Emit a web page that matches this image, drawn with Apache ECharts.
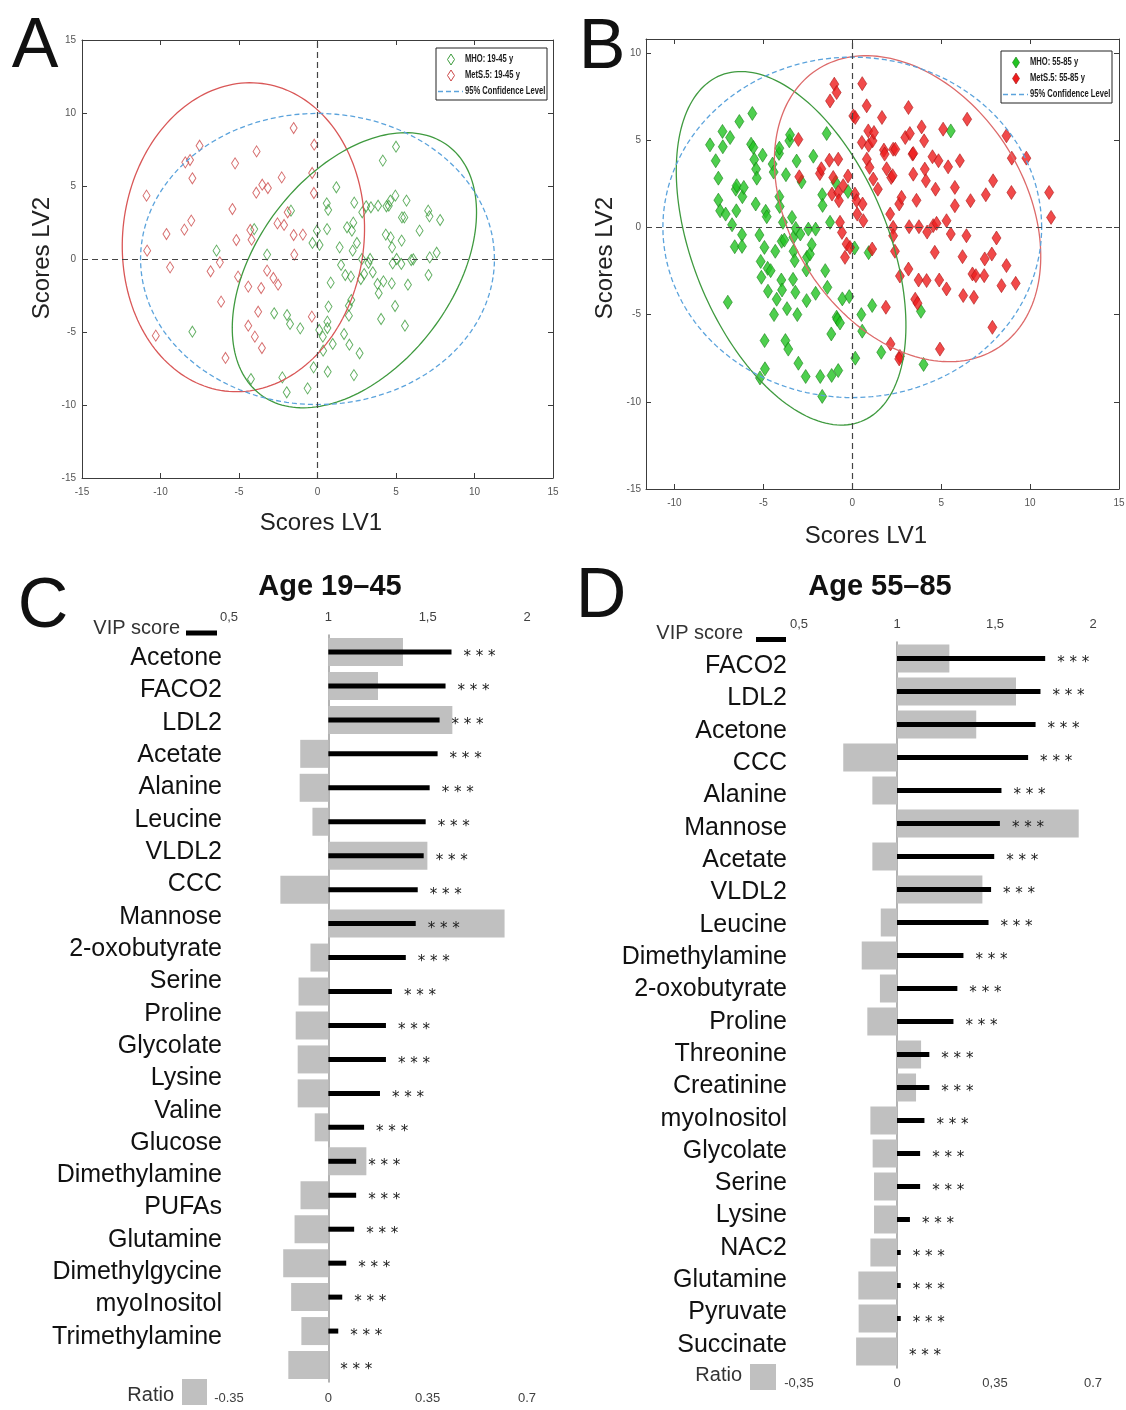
<!DOCTYPE html>
<html>
<head>
<meta charset="utf-8">
<title>PLS-DA scores and VIP scores</title>
<script src="https://cdn.jsdelivr.net/npm/echarts@6/dist/echarts.min.js"></script>
<style>
  html, body { margin: 0; padding: 0; background: #fff; }
  #chart { width: 1126px; height: 1410px; }
</style>
</head>
<body>
<div id="chart"></div>
<script>
// ---------- A: scores LV1/LV2, age 19-45 ----------
const mhoA = [
  [-7.97,-4.98],[-6.43,0.57],[-4.24,-8.22],[-4.03,2.05],[-3.21,0.30],[-2.76,-3.72],[-2.24,-8.11],[-1.96,-9.13],
  [-1.94,-3.84],[-1.75,-4.45],[-1.69,3.31],[-1.10,-4.75],[-0.63,-8.86],[-0.32,1.10],[-0.25,-7.42],[-0.04,1.94],
  [0.13,0.96],[0.11,-4.86],[0.34,-5.32],[0.36,-6.28],[0.59,3.81],[0.61,2.05],[0.63,-4.29],[0.63,-4.73],
  [0.68,3.36],[0.70,-3.26],[0.65,-7.72],[0.84,-1.62],[0.97,-5.82],[1.20,4.91],[1.41,0.80],[1.50,-0.41],
  [1.69,-5.14],[1.77,-1.10],[1.88,2.17],[2.00,-3.20],[2.00,-3.88],[2.03,-5.87],[2.13,-1.21],[2.15,-2.81],
  [2.19,1.94],[2.24,0.57],[2.28,2.49],[2.32,-7.95],[2.34,3.86],[2.51,1.10],[2.68,-6.46],[2.83,0.00],
  [2.76,-1.37],[2.85,3.20],[2.97,-1.03],[3.10,3.61],[3.25,-0.27],[3.35,0.00],[3.40,3.54],[3.52,-0.91],
  [3.82,-1.71],[3.86,3.65],[3.90,-2.35],[4.05,-4.11],[4.16,6.74],[4.20,-1.53],[4.35,1.67],[4.39,3.61],
  [4.54,3.65],[4.64,4.00],[4.66,1.48],[4.73,-1.67],[4.75,0.80],[4.79,-0.30],[4.94,-3.22],[4.96,4.34],
  [5.00,7.69],[5.04,0.00],[5.36,1.26],[5.34,-0.34],[5.38,2.85],[5.53,2.85],[5.57,-4.57],[5.67,4.00],
  [5.76,-1.76],[5.97,-0.07],[6.10,-0.02],[6.50,1.94],[7.05,3.31],[7.13,2.92],[7.07,-1.10],[7.15,0.11],
  [7.59,0.43],[7.81,2.67]
];
const metsA = [
  [-10.89,4.34],[-10.85,0.57],[-10.30,-5.25],[-9.62,1.71],[-9.39,-0.57],[-8.48,2.01],[-8.42,6.62],[-8.12,6.78],
  [-8.04,2.63],[-7.97,5.53],[-7.51,7.76],[-6.81,-0.84],[-6.22,-0.23],[-6.14,-2.92],[-5.86,-6.78],[-5.42,3.42],
  [-5.25,6.55],[-5.17,1.30],[-5.06,-1.21],[-4.41,-1.89],[-4.41,-4.57],[-4.28,1.99],[-4.20,1.32],[-3.99,-5.32],
  [-3.90,4.54],[-3.88,7.37],[-3.78,-3.61],[-3.59,-1.99],[-3.54,-6.10],[-3.52,5.09],[-3.21,-0.80],[-3.16,4.86],
  [-2.81,-1.30],[-2.55,2.44],[-2.51,-1.76],[-2.28,5.59],[-2.13,2.33],[-1.90,3.20],[-1.52,8.97],[-1.52,1.64],
  [-1.48,0.30],[-0.93,1.67],[-0.36,-3.95],[-0.34,5.89],[-0.23,4.52],[-0.21,7.83]
];
// confidence ellipses: [centre x, centre y, semi-axis a, semi-axis b, angle of a (deg)]
const ellMetsA = [-4.72, 1.49, 10.6, 7.69, 85];
const ellMhoA = [2.35, -0.77, 10.42, 6.38, 57.3];
const ellConfA = [0, 0, 11.27, 9.97, 0];
const ticksA = [-15, -10, -5, 0, 5, 10, 15];

// ---------- B: scores LV1/LV2, age 55-85 ----------
const mhoB = [
  [-8.0,4.73],[-7.68,3.82],[-7.53,2.82],[-7.53,1.56],[-7.43,0.95],[-7.30,5.50],[-7.28,4.62],[-7.12,0.76],
  [-7.00,-4.29],[-6.87,5.15],[-6.76,0.15],[-6.61,-1.11],[-6.55,2.19],[-6.52,0.95],[-6.50,2.39],[-6.35,6.07],
  [-6.20,-0.42],[-6.20,-1.09],[-6.18,1.76],[-6.10,2.29],[-5.62,6.53],[-5.69,4.77],[-5.56,4.58],[-5.51,3.89],
  [-5.41,3.34],[-5.37,2.82],[-5.43,1.34],[-5.22,-0.44],[-5.15,-1.95],[-5.11,-2.86],[-5.04,4.14],[-4.94,-1.15],
  [-4.93,-6.49],[-4.91,-8.11],[-5.19,-8.63],[-4.87,0.92],[-4.81,0.61],[-4.76,-2.35],[-4.74,-3.66],[-4.59,-2.48],
  [-4.48,3.63],[-4.42,3.17],[-4.40,-5.00],[-4.33,-1.37],[-4.25,-4.12],[-4.12,4.24],[-4.10,4.54],[-4.10,1.76],
  [-4.08,1.20],[-3.99,-3.02],[-3.97,-0.80],[-3.95,-3.59],[-3.90,0.29],[-3.82,-0.73],[-3.76,-6.49],[-3.73,3.02],
  [-3.67,-4.66],[-3.60,-6.98],[-3.54,4.96],[-3.50,5.31],[-3.39,0.57],[-3.33,-2.98],[-3.31,-0.57],[-3.30,-1.37],
  [-3.24,-1.91],[-3.20,-3.72],[-3.18,-0.06],[-3.13,3.80],[-3.09,-5.00],[-3.03,-7.79],[-2.92,-0.38],[-2.85,2.61],
  [-2.62,-8.55],[-2.58,-2.44],[-2.57,-4.20],[-2.55,-1.72],[-2.47,-0.10],[-2.38,-1.53],[-2.28,-0.99],[-2.19,4.08],
  [-2.06,-0.10],[-2.06,-3.78],[-1.80,-8.55],[-1.69,1.87],[-1.67,1.26],[-1.52,-2.48],[-1.44,5.38],[-1.40,-3.44],
  [-1.25,0.29],[-1.16,-8.49],[-1.18,-6.11],[-0.94,2.58],[-0.88,-5.15],[-0.84,-5.27],[-0.79,-8.21],[-0.69,-5.48],
  [-0.56,-4.10],[-0.24,2.06],[-0.17,-3.97],[0.13,-1.18],[0.17,-7.50],[0.51,-5.00],[0.56,-5.95],[0.92,-1.45],
  [1.12,-4.48],[1.63,-7.16],[4.01,-7.86],[3.86,-4.81],[5.54,5.53],[-1.69,-9.69]
];
const metsB = [
  [-3.03,5.04],[-2.98,2.90],[-1.82,3.09],[-1.74,3.36],[-1.29,3.85],[-1.25,7.25],[-1.14,1.91],[-1.07,2.86],
  [-1.01,8.21],[-0.88,7.73],[-0.79,3.91],[-0.79,2.00],[-0.75,1.53],[-0.69,0.29],[-0.58,-0.29],[-0.51,2.39],
  [-0.41,-1.72],[-0.32,-0.95],[-0.24,2.94],[-0.13,-1.15],[0.06,6.39],[0.17,6.30],[0.15,1.91],[0.24,1.53],
  [0.28,0.76],[0.56,8.24],[0.54,4.87],[0.58,1.34],[0.62,0.38],[0.81,6.97],[0.82,3.91],[0.90,5.53],
  [0.92,4.71],[0.97,3.44],[1.12,-1.24],[1.14,4.96],[1.18,2.77],[1.22,5.44],[1.44,2.19],[1.67,6.30],
  [1.78,4.43],[1.82,4.20],[1.89,-4.58],[1.93,3.36],[2.13,0.76],[2.19,2.86],[2.27,2.96],[2.30,4.48],
  [2.30,0.00],[2.30,-0.48],[2.40,-1.37],[2.42,4.48],[2.64,1.34],[2.68,-2.79],[2.68,-7.40],[2.77,1.72],
  [2.98,5.15],[3.16,6.87],[3.16,-2.39],[3.20,0.04],[3.24,5.38],[3.39,4.20],[3.43,3.05],[3.43,4.24],
  [3.54,-4.12],[3.61,1.55],[3.73,-3.02],[3.75,0.04],[3.90,5.76],[4.04,4.96],[4.08,3.34],[4.14,2.67],
  [4.18,-3.05],[4.21,-0.27],[4.51,4.05],[4.55,0.10],[4.64,-1.43],[4.68,2.19],[4.74,0.23],[4.85,3.82],
  [4.89,-3.02],[4.93,-6.98],[5.11,5.63],[5.30,0.38],[5.30,-3.53],[5.39,3.47],[5.54,-0.38],[5.77,2.29],
  [5.77,1.24],[6.05,3.82],[6.20,-1.68],[6.24,-3.91],[6.42,-0.48],[6.46,6.20],[6.65,1.53],[6.76,-2.67],
  [6.84,-4.01],[6.95,-2.77],[7.42,-2.77],[7.45,-1.81],[7.51,1.87],[7.85,-1.53],[7.88,-5.73],[7.92,2.67],
  [8.11,-0.61],[8.39,-3.34],[8.67,-2.19],[8.67,5.25],[8.95,2.00],[8.97,3.97],[9.19,-3.21],[9.79,3.97],
  [11.07,2.00],[11.18,0.57],[2.15,-6.68],[2.64,-7.54],[3.67,-4.35]
];
const ellMhoB = [-3.44, -1.2, 10.68, 5.51, -68.4];
const ellMetsB = [3.11, 1.07, 9.46, 6.6, -58.5];
const ellConfB = [0, 0, 10.65, 9.76, 0];
const ticksBx = [-10, -5, 0, 5, 10, 15];
const ticksBy = [-15, -10, -5, 0, 5, 10];

// ---------- C: VIP score + ratio, age 19-45 ----------
const catsC = ['Acetone', 'FACO2', 'LDL2', 'Acetate', 'Alanine', 'Leucine', 'VLDL2', 'CCC', 'Mannose',
  '2-oxobutyrate', 'Serine', 'Proline', 'Glycolate', 'Lysine', 'Valine', 'Glucose', 'Dimethylamine',
  'PUFAs', 'Glutamine', 'Dimethylgycine', 'myoInositol', 'Trimethylamine'];
const vipC = [1.62, 1.59, 1.56, 1.55, 1.51, 1.49, 1.48, 1.45, 1.44, 1.39, 1.32, 1.29, 1.29, 1.26, 1.18,
  1.14, 1.14, 1.13, 1.09, 1.07, 1.05, 1.00];
const ratioC = [0.263, 0.175, 0.437, -0.099, -0.101, -0.056, 0.349, -0.169, 0.621, -0.063, -0.105, -0.115,
  -0.108, -0.108, -0.048, 0.134, -0.098, -0.119, -0.159, -0.131, -0.095, -0.141];
const vipLabelsC = ['0,5', '1', '1,5', '2'];
const ratioLabelsC = ['-0.35', '0', '0.35', '0.7'];

// ---------- D: VIP score + ratio, age 55-85 ----------
const catsD = ['FACO2', 'LDL2', 'Acetone', 'CCC', 'Alanine', 'Mannose', 'Acetate', 'VLDL2', 'Leucine',
  'Dimethylamine', '2-oxobutyrate', 'Proline', 'Threonine', 'Creatinine', 'myoInositol', 'Glycolate',
  'Serine', 'Lysine', 'NAC2', 'Glutamine', 'Pyruvate', 'Succinate'];
const vipD = [1.756, 1.732, 1.707, 1.669, 1.533, 1.525, 1.496, 1.480, 1.467, 1.339, 1.308, 1.288, 1.165,
  1.165, 1.140, 1.118, 1.118, 1.066, 1.019, 1.019, 1.019, 1.000];
const ratioD = [0.187, 0.425, 0.283, -0.192, -0.088, 0.649, -0.088, 0.305, -0.058, -0.126, -0.061, -0.106,
  0.086, 0.068, -0.095, -0.087, -0.082, -0.082, -0.095, -0.138, -0.137, -0.146];
const vipLabelsD = ['0,5', '1', '1,5', '2'];
const ratioLabelsD = ['-0,35', '0', '0,35', '0.7'];

const FONT = "'Liberation Sans', Arial, sans-serif";
const BOX = '#3c3c3c';
const BAR_AXIS = '#8a8a8a';
const GREY_BAR = '#c0c0c0';

// MATLAB-like framed axis, ticks inside
function frameAxis(gridIndex, position, min, max, ticks, labelled, margin) {
  return {
    gridIndex, position, type: 'value', min, max,
    axisLine: { onZero: false, lineStyle: { color: BOX, width: 1 } },
    axisTick: { inside: true, length: 5, customValues: ticks, lineStyle: { color: BOX } },
    axisLabel: { show: labelled, customValues: ticks, margin, fontSize: 10, color: '#555', fontFamily: FONT },
    splitLine: { show: false }
  };
}

function barAxis(gridIndex, position, min, max, interval, labels, offset, margin) {
  return {
    gridIndex, position, type: 'value', min, max, interval, offset,
    axisLine: { onZero: false, lineStyle: { color: BAR_AXIS, width: 1.2 } },
    axisTick: { length: 4, lineStyle: { color: BAR_AXIS } },
    axisLabel: { formatter: (v, i) => labels[i], margin, fontSize: 13, color: '#404040', fontFamily: FONT },
    splitLine: { show: false }
  };
}

function catAxis(gridIndex, cats, withLabels) {
  return {
    gridIndex, type: 'category', data: cats, inverse: true,
    axisLine: withLabels ? { show: false } : { onZero: true, lineStyle: { color: '#9a9a9a', width: 1.5 } },
    axisTick: { show: false },
    axisLabel: withLabels
      ? { interval: 0, margin: 8, fontSize: 25, color: '#111', fontFamily: FONT }
      : { show: false }
  };
}

// ellipse drawn through the axis scales
function ellipseSeries(params, xi, yi, color, dashed) {
  return {
    type: 'custom', xAxisIndex: xi, yAxisIndex: yi, silent: true, z: 4,
    data: [params],
    renderItem: function (p, api) {
      const cx = api.value(0), cy = api.value(1), a = api.value(2), b = api.value(3);
      const th = api.value(4) * Math.PI / 180;
      const pts = [];
      for (let k = 0; k < 180; k++) {
        const t = k / 180 * 2 * Math.PI;
        const ex = a * Math.cos(t), ey = b * Math.sin(t);
        pts.push(api.coord([cx + ex * Math.cos(th) - ey * Math.sin(th), cy + ex * Math.sin(th) + ey * Math.cos(th)]));
      }
      return {
        type: 'polygon', shape: { points: pts },
        style: { fill: 'none', stroke: color, lineWidth: 1.3, lineDash: dashed ? [5, 3] : null }
      };
    }
  };
}

// black VIP bar starting at VIP = 1 plus the *** mark
function vipSeries(vals, xi, yi) {
  return {
    type: 'custom', xAxisIndex: xi, yAxisIndex: yi, silent: true, z: 5,
    data: vals.map((v, i) => [v, i]),
    encode: { x: 0, y: 1 },
    renderItem: function (p, api) {
      const s = api.coord([1, api.value(1)]);
      const e = api.coord([api.value(0), api.value(1)]);
      return {
        type: 'group',
        children: [
          { type: 'rect', shape: { x: s[0], y: s[1] - 2.5, width: e[0] - s[0], height: 5 }, style: { fill: '#000' } },
          { type: 'text', x: e[0] + 12, y: s[1] + 5,
            style: { text: '* * *', fontSize: 15, fontFamily: "'DejaVu Sans', sans-serif", fill: '#1a1a1a',
              align: 'left', verticalAlign: 'middle' } }
        ]
      };
    }
  };
}

const zeroLines = {
  silent: true, symbol: 'none', label: { show: false }, animation: false,
  lineStyle: { color: '#444', type: [6, 4], width: 1.2 },
  data: [{ xAxis: 0 }, { yAxis: 0 }]
};

function legendBox(x, y, green, red, filled, names) {
  const dia = (cx, cy) => [[cx, cy - 5.5], [cx + 3.5, cy], [cx, cy + 5.5], [cx - 3.5, cy]];
  const txt = (ty, t) => ({ type: 'text', x: x + 29, y: ty, scaleX: 0.76, z: 51,
    style: { text: t, fontSize: 10, fontWeight: 'bold', fontFamily: FONT, fill: '#1a1a1a', verticalAlign: 'middle' } });
  return [
    { type: 'rect', shape: { x, y, width: 111, height: 52 }, style: { fill: '#fff', stroke: '#222', lineWidth: 1 }, z: 50 },
    { type: 'polygon', shape: { points: dia(x + 15, y + 11.5) }, z: 51,
      style: filled ? { fill: green, stroke: '#117711', lineWidth: 0.6 } : { fill: 'none', stroke: green, lineWidth: 1 } },
    { type: 'polygon', shape: { points: dia(x + 15, y + 27.5) }, z: 51,
      style: filled ? { fill: red, stroke: '#a01010', lineWidth: 0.6 } : { fill: 'none', stroke: red, lineWidth: 1 } },
    { type: 'line', shape: { x1: x + 2, y1: y + 43.5, x2: x + 27, y2: y + 43.5 }, z: 51,
      style: { stroke: '#5ba3dc', lineWidth: 1.3, lineDash: [5, 3] } },
    txt(y + 11.5, names[0]),
    txt(y + 27.5, names[1]),
    txt(y + 43.5, '95% Confidence Level')
  ];
}

const bigText = (t, x, y, size, extra) => ({
  type: 'text', x, y, rotation: (extra && extra.rotation) || 0,
  style: Object.assign({ text: t, fontSize: size, fontFamily: FONT, fill: '#111', align: 'center', verticalAlign: 'middle' },
    extra && extra.style)
});

const chart = echarts.init(document.getElementById('chart'));
const option = {
  animation: false,
  backgroundColor: '#fff',
  grid: [
    { left: 82, top: 40, width: 471, height: 438, outerBoundsMode: 'none' },   // 0 A
    { left: 646, top: 39, width: 473, height: 450, outerBoundsMode: 'none' },  // 1 B
    { left: 229, top: 635, width: 298, height: 747, outerBoundsMode: 'none' }, // 2 C bars
    { left: 230, top: 642, width: 10, height: 711, outerBoundsMode: 'none' },  // 3 C names
    { left: 799, top: 642, width: 294, height: 726, outerBoundsMode: 'none' }, // 4 D bars
    { left: 795, top: 650, width: 10, height: 711, outerBoundsMode: 'none' }   // 5 D names
  ],
  xAxis: [
    frameAxis(0, 'bottom', -15, 15, ticksA, true, 9),
    frameAxis(0, 'top', -15, 15, ticksA, false, 8),
    frameAxis(1, 'bottom', -11.6, 15, ticksBx, true, 9),
    frameAxis(1, 'top', -11.6, 15, ticksBx, false, 8),
    barAxis(2, 'bottom', -0.35, 0.7, 0.35, ratioLabelsC, -1, 11),
    barAxis(2, 'top', 0.5, 2, 0.5, vipLabelsC, 3, 8),
    { gridIndex: 3, type: 'value', show: false },
    barAxis(4, 'bottom', -0.35, 0.7, 0.35, ratioLabelsD, 0, 9),
    barAxis(4, 'top', 0.5, 2, 0.5, vipLabelsD, 0, 11),
    { gridIndex: 5, type: 'value', show: false }
  ],
  yAxis: [
    frameAxis(0, 'left', -15, 15, ticksA, true, 6),
    frameAxis(0, 'right', -15, 15, ticksA, false, 6),
    frameAxis(1, 'left', -15, 10.8, ticksBy, true, 5),
    frameAxis(1, 'right', -15, 10.8, ticksBy, false, 5),
    catAxis(2, catsC, false),
    catAxis(3, catsC, true),
    catAxis(4, catsD, false),
    catAxis(5, catsD, true)
  ],
  series: [
    // A
    { type: 'scatter', name: 'MHO: 19-45 y', xAxisIndex: 0, yAxisIndex: 0, data: mhoA, symbol: 'diamond',
      symbolSize: [7, 11], silent: true, z: 3,
      itemStyle: { color: 'rgba(0,0,0,0)', borderColor: '#3b9b3b', borderWidth: 1 }, markLine: zeroLines },
    { type: 'scatter', name: 'MetS.5: 19-45 y', xAxisIndex: 0, yAxisIndex: 0, data: metsA, symbol: 'diamond',
      symbolSize: [7, 11], silent: true, z: 3,
      itemStyle: { color: 'rgba(0,0,0,0)', borderColor: '#cc4848', borderWidth: 1 } },
    ellipseSeries(ellMetsA, 0, 0, '#d95757', false),
    ellipseSeries(ellMhoA, 0, 0, '#3f9a3f', false),
    ellipseSeries(ellConfA, 0, 0, '#5ba3dc', true),
    // B
    { type: 'scatter', name: 'MHO: 55-85 y', xAxisIndex: 2, yAxisIndex: 2, data: mhoB, symbol: 'diamond',
      symbolSize: [9, 14], silent: true, z: 3,
      itemStyle: { color: '#22c322', borderColor: '#137a13', borderWidth: 0.7 }, markLine: zeroLines },
    { type: 'scatter', name: 'MetS.5: 55-85 y', xAxisIndex: 2, yAxisIndex: 2, data: metsB, symbol: 'diamond',
      symbolSize: [9, 14], silent: true, z: 3,
      itemStyle: { color: '#ee1d1d', borderColor: '#a51212', borderWidth: 0.7 } },
    ellipseSeries(ellMhoB, 2, 2, '#3f9a3f', false),
    ellipseSeries(ellMetsB, 2, 2, '#dd6a6a', false),
    ellipseSeries(ellConfB, 2, 2, '#5ba3dc', true),
    // C
    { type: 'bar', name: 'Ratio C', xAxisIndex: 4, yAxisIndex: 4, data: ratioC, barWidth: 28, silent: true, z: 2,
      itemStyle: { color: GREY_BAR } },
    vipSeries(vipC, 5, 4),
    // D
    { type: 'bar', name: 'Ratio D', xAxisIndex: 7, yAxisIndex: 6, data: ratioD, barWidth: 28, silent: true, z: 2,
      itemStyle: { color: GREY_BAR } },
    vipSeries(vipD, 8, 6)
  ],
  graphic: {
    elements: [
      bigText('A', 35, 48, 70),
      bigText('B', 602, 49, 70),
      bigText('C', 43, 608, 70),
      bigText('D', 601, 598, 70),
      bigText('Scores LV1', 321, 523, 24, { style: { fill: '#222' } }),
      bigText('Scores LV1', 866, 536, 24, { style: { fill: '#222' } }),
      bigText('Scores LV2', 42, 258, 24, { rotation: Math.PI / 2, style: { fill: '#222' } }),
      bigText('Scores LV2', 605, 258, 24, { rotation: Math.PI / 2, style: { fill: '#222' } }),
      bigText('Age 19\u201345', 330, 587, 29, { style: { fontWeight: 'bold' } }),
      bigText('Age 55\u201385', 880, 587, 29, { style: { fontWeight: 'bold' } }),
      // VIP / Ratio keys
      bigText('VIP score', 180, 628, 20, { style: { align: 'right', fill: '#333' } }),
      { type: 'rect', shape: { x: 186, y: 630.5, width: 31, height: 5 }, style: { fill: '#000' } },
      bigText('Ratio', 174, 1395, 20, { style: { align: 'right', fill: '#333' } }),
      { type: 'rect', shape: { x: 182, y: 1379, width: 25, height: 26 }, style: { fill: GREY_BAR } },
      bigText('VIP score', 743, 633, 20, { style: { align: 'right', fill: '#333' } }),
      { type: 'rect', shape: { x: 756, y: 637, width: 30, height: 5 }, style: { fill: '#000' } },
      bigText('Ratio', 742, 1375, 20, { style: { align: 'right', fill: '#333' } }),
      { type: 'rect', shape: { x: 750, y: 1364, width: 26, height: 26 }, style: { fill: GREY_BAR } }
    ]
      .concat(legendBox(436, 48, '#3b9b3b', '#cc4848', false, ['MHO: 19-45 y', 'MetS.5: 19-45 y']))
      .concat(legendBox(1001, 51, '#22c322', '#ee1d1d', true, ['MHO: 55-85 y', 'MetS.5: 55-85 y']))
  }
};
chart.setOption(option);
</script>
</body>
</html>
